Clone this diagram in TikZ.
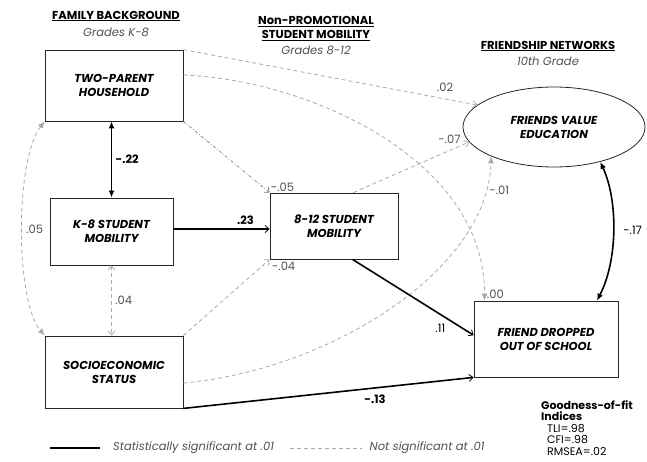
\documentclass[tikz,border=0pt]{standalone}
\usepackage{fontspec}
\setmainfont{Poppins}
\usetikzlibrary{arrows.meta,shapes.geometric}
\definecolor{nsgray}{RGB}{170,170,170}
\definecolor{labgray}{RGB}{80,80,80}

\begin{document}
\begin{tikzpicture}[x=1pt,y=-1pt,font=\fontsize{11.5}{13}\selectfont,
  box/.style={draw=black!85,line width=0.8pt,align=center,font=\fontsize{11.5}{14}\selectfont\bfseries\itshape},
  heading/.style={align=center,font=\fontsize{11.5}{14}\selectfont\bfseries},
  grades/.style={text=labgray,font=\fontsize{11.5}{13}\selectfont\itshape},
  sig/.style={black,line width=1.6pt},
  nsig/.style={nsgray,line width=0.8pt,dash pattern=on 4pt off 3pt},
  nslab/.style={text=labgray},
  siglab/.style={font=\fontsize{11.5}{13}\selectfont\bfseries},
  fill tip/.tip={Latex[length=7pt,width=6pt]},
  open tip/.tip={Straight Barb[length=4pt,width=7pt,line width=0.8pt]}]
\useasboundingbox (0,0) rectangle (647,462);

% Column headings
\node[heading] (famhead) at (116,16) {\underline{FAMILY BACKGROUND}};
\node[grades] (famgrades) at (116,32) {Grades K-8};
\node[heading] (mobhead) at (316,28.5) {\underline{Non-PROMOTIONAL}\\\underline{STUDENT MOBILITY}};
\node[grades] (mobgrades) at (316,50) {Grades 8-12};
\node[heading] (frhead) at (548,46) {\underline{FRIENDSHIP NETWORKS}};
\node[grades] (frgrades) at (548,61) {10th Grade};

% Variables
\node[box,minimum width=138pt,minimum height=71pt] (twoparent) at (114,85.5) {TWO-PARENT\\HOUSEHOLD};
\node[box,minimum width=123pt,minimum height=67pt] (kmob) at (111.5,231.5) {K-8 STUDENT\\MOBILITY};
\node[box,minimum width=138pt,minimum height=72pt] (ses) at (114,372) {SOCIOECONOMIC\\STATUS};
\node[box,minimum width=128pt,minimum height=66pt] (hsmob) at (334,226) {8-12 STUDENT\\MOBILITY};
\node[box,ellipse,minimum width=182pt,minimum height=80pt] (friendval) at (554,127) {FRIENDS VALUE\\EDUCATION};
\node[box,minimum width=144pt,minimum height=76pt] (dropout) at (546,339) {FRIEND DROPPED\\OUT OF SCHOOL};

% Family background paths
\draw[sig,{fill tip}-{fill tip}] (twoparent.south -| kmob.north) -- (kmob.north) node[siglab,pos=0.5,right]{-.22};
\draw[nsig,{open tip}-{open tip}] (kmob.south) -- (ses.north -| kmob.south) node[nslab,pos=0.5,right]{.04};
\draw[nsig,{fill tip}-{fill tip}] (twoparent.south west) .. controls (15,160) and (15,300) .. (ses.north west) node[nslab,pos=0.5,right]{.05};

% Mobility paths
\draw[sig,-{open tip}] (kmob.east |- 0,229) -- (hsmob.west |- 0,229) node[siglab,pos=0.75,above]{.23};
\draw[gray,line width=0.7pt,dash dot,-{open tip}] (twoparent.south east) -- (hsmob.north west) node[nslab,at end,above right,inner sep=1pt]{-.05};
\draw[nsig,-{open tip}] (ses.north east) -- (hsmob.south west) node[nslab,at end,below right,inner sep=2pt]{-.04};

% Friendship network paths
\draw[nsig,-{open tip}] (twoparent.north east) -- (friendval.164) node[nslab,pos=0.89,above,yshift=4pt]{.02};
\draw[nsig,-{fill tip}] (twoparent.east |- 0,75) .. controls (310,80) and (485,160) .. (dropout.148) node[nslab,at end,above right,inner sep=2pt]{.00};
\draw[nsig,-{open tip}] (hsmob.60) -- (friendval.190) node[nslab,pos=0.83,above,yshift=3pt]{-.07};
\draw[nsig,-{fill tip}] (ses.-9) .. controls (330,370) and (488,270) .. (friendval.205) node[nslab,pos=0.9,right]{-.01};
\draw[sig,-{open tip}] (hsmob.-61) -- (dropout.177) node[pos=0.8,below left]{.11};
\draw[sig,-{open tip}] (ses.south east) -- (dropout.south west) node[siglab,pos=0.66,below,yshift=-3pt]{-.13};
\draw[sig,{fill tip}-{fill tip}] (friendval.-37) .. controls (618,200) and (618,260) .. (dropout.37) node[pos=0.5,right,xshift=6pt]{-.17};

% Legend
\coordinate (sigfrom) at (50,448);
\coordinate (sigto) at (100,448);
\draw[sig] (sigfrom) -- (sigto) node[grades,right,xshift=9pt]{Statistically significant at .01};
\coordinate (nsfrom) at (290,448);
\coordinate (nsto) at (362,448);
\draw[nsig] (nsfrom) -- (nsto) node[grades,right,xshift=4pt]{Not significant at .01};

% Fit indices
\node[anchor=north west,align=left,inner sep=0pt,font=\fontsize{11}{11.5}\selectfont] (fit) at (541,400)
  {\textbf{Goodness-of-fit}\\\textbf{Indices}\\\hspace*{6pt}TLI=.98\\\hspace*{6pt}CFI=.98\\\hspace*{6pt}RMSEA=.02};
\end{tikzpicture}
\end{document}
